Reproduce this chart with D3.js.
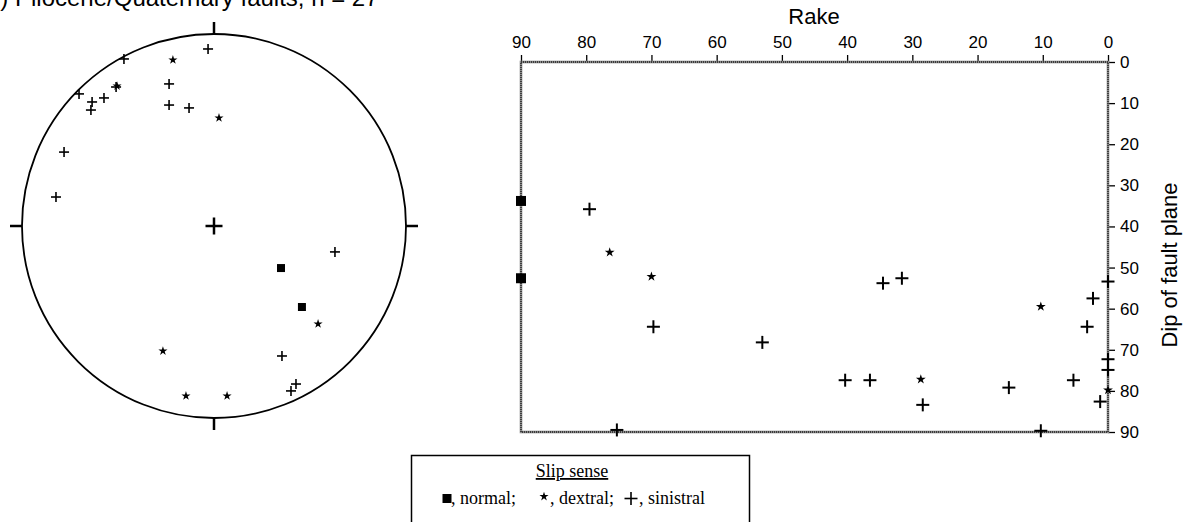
<!DOCTYPE html>
<html>
<head>
<meta charset="utf-8">
<script src="https://cdn.jsdelivr.net/npm/d3@7"></script>
<style>
  html, body { margin: 0; padding: 0; background: #fff; }
  svg { display: block; }
</style>
</head>
<body>
<svg id="chart" width="1194" height="522"></svg>
<script>
// ---------------- DATA ----------------
const titleText = "(b) Pliocene/Quaternary faults, n = 27";

// Stereonet poles, in net coordinates (east, north), unit circle = primitive
const netSinistral = [
  [-0.031, 0.922], [-0.469, 0.870], [-0.234, 0.740], [-0.510, 0.724],
  [-0.703, 0.688], [-0.573, 0.667], [-0.635, 0.646], [-0.641, 0.604],
  [-0.234, 0.630], [-0.130, 0.615], [-0.781, 0.385], [-0.823, 0.151],
  [0.630, -0.135], [0.354, -0.677], [0.427, -0.823], [0.401, -0.859]
];
const netDextral = [
  [-0.214, 0.865], [-0.505, 0.729], [0.026, 0.563], [0.542, -0.510],
  [-0.266, -0.651], [-0.146, -0.885], [0.068, -0.885]
];
const netNormal = [
  [0.349, -0.219], [0.458, -0.422]
];

// Rake vs dip of fault plane  [rake, dip]
const rdNormal = [[90, 33.8], [90, 52.6]];
const rdDextral = [[76.4, 46.3], [70.0, 52.2], [10.3, 59.5], [28.7, 77.2], [0, 79.8]];
const rdSinistral = [
  [79.5, 35.8], [34.5, 53.8], [31.6, 52.6], [0, 53.4], [2.3, 57.5],
  [3.2, 64.4], [0, 72.3], [0, 74.9], [5.3, 77.4], [15.2, 79.2],
  [28.4, 83.4], [1.2, 82.6], [10.3, 89.7], [69.7, 64.4], [53.0, 68.2],
  [40.3, 77.4], [36.5, 77.4], [75.3, 89.5]
];

const rakeTicks = [90, 80, 70, 60, 50, 40, 30, 20, 10, 0];
const dipTicks = [0, 10, 20, 30, 40, 50, 60, 70, 80, 90];
const rakeTitle = "Rake";
const dipTitle = "Dip of fault plane";
const legendTitle = "Slip sense";
const legendItems = [
  { type: "normal", label: ", normal;" },
  { type: "dextral", label: ", dextral;" },
  { type: "sinistral", label: ", sinistral" }
];

// ---------------- DRAWING ----------------
const svg = d3.select("#chart");
const sans = "'Liberation Sans', Arial, Helvetica, sans-serif";
const serif = "'Liberation Serif', 'Times New Roman', serif";

// Title (cut off at top/left edge, as in the source figure)
svg.append("text")
  .attr("x", -21).attr("y", 6)
  .attr("text-anchor", "start")
  .attr("font-family", sans).attr("font-size", 24)
  .text(titleText);

// marker helpers
function plus(g, x, y, half, sw) {
  g.append("line").attr("x1", x - half).attr("x2", x + half).attr("y1", y).attr("y2", y)
    .attr("stroke", "#000").attr("stroke-width", sw);
  g.append("line").attr("x1", x).attr("x2", x).attr("y1", y - half).attr("y2", y + half)
    .attr("stroke", "#000").attr("stroke-width", sw);
}
const starPath = s => d3.symbol().type(d3.symbolStar).size(s)();
const squarePath = s => d3.symbol().type(d3.symbolSquare).size(s)();

// ---- Stereonet ----
const cx = 214, cy = 226, R = 192;
const nx = d3.scaleLinear().domain([-1, 1]).range([cx - R, cx + R]);
const ny = d3.scaleLinear().domain([-1, 1]).range([cy + R, cy - R]);
const net = svg.append("g");
net.append("circle").attr("cx", nx(0)).attr("cy", ny(0)).attr("r", R)
  .attr("fill", "none").attr("stroke", "#000").attr("stroke-width", 1.8);
// N, E, S, W ticks
const tickLen = 12;
[[0, 1, 0, -1], [1, 0, 1, 0], [0, -1, 0, 1], [-1, 0, -1, 0]].forEach(([ex, ey, dx, dy]) => {
  net.append("line")
    .attr("x1", nx(ex)).attr("y1", ny(ey))
    .attr("x2", nx(ex) + dx * tickLen).attr("y2", ny(ey) + dy * tickLen)
    .attr("stroke", "#000").attr("stroke-width", 2.5);
});
// center cross
plus(net, nx(0), ny(0), 8.5, 2.5);

netSinistral.forEach(d => plus(net, nx(d[0]), ny(d[1]), 5, 1.6));
net.selectAll("path.ds").data(netDextral).join("path").attr("class", "ds")
  .attr("d", starPath(26))
  .attr("transform", d => `translate(${nx(d[0])},${ny(d[1])})`)
  .attr("fill", "#000");
net.selectAll("path.nm").data(netNormal).join("path").attr("class", "nm")
  .attr("d", squarePath(64))
  .attr("transform", d => `translate(${nx(d[0])},${ny(d[1])})`)
  .attr("fill", "#000");

// ---- Rake vs Dip plot ----
const x0 = 521, x1 = 1108, y0 = 62, y1 = 432;
const xR = d3.scaleLinear().domain([90, 0]).range([x0, x1]);
const yD = d3.scaleLinear().domain([0, 90]).range([y0, y1]);
const plot = svg.append("g");

const topAxis = plot.append("g").attr("transform", `translate(0,${y0})`)
  .call(d3.axisTop(xR).tickValues(rakeTicks).tickSize(7).tickPadding(7).tickFormat(d3.format("d")));
const rightAxis = plot.append("g").attr("transform", `translate(${x1},0)`)
  .call(d3.axisRight(yD).tickValues(dipTicks).tickSize(7).tickPadding(5).tickFormat(d3.format("d")));
[topAxis, rightAxis].forEach(a => {
  a.select(".domain").remove();
  a.selectAll("line").attr("stroke", "#000").attr("stroke-width", 1.3);
  a.selectAll("text").attr("font-family", sans).attr("font-size", 17).attr("fill", "#000");
});

// frame (textured grey)
plot.append("rect").attr("x", x0).attr("y", y0).attr("width", x1 - x0).attr("height", y1 - y0)
  .attr("fill", "none").attr("stroke", "#8a8a8a").attr("stroke-width", 2.6);
plot.append("rect").attr("x", x0).attr("y", y0).attr("width", x1 - x0).attr("height", y1 - y0)
  .attr("fill", "none").attr("stroke", "#222").attr("stroke-width", 1.4)
  .attr("stroke-dasharray", "1,1");

plot.append("text").attr("x", 814).attr("y", 24).attr("text-anchor", "middle")
  .attr("font-family", sans).attr("font-size", 22).text(rakeTitle);
plot.append("text")
  .attr("transform", "translate(1177,265) rotate(-90)")
  .attr("text-anchor", "middle")
  .attr("font-family", sans).attr("font-size", 22).text(dipTitle);

rdSinistral.forEach(d => plus(plot, xR(d[0]), yD(d[1]), 6.5, 2));
plot.selectAll("path.ds").data(rdDextral).join("path").attr("class", "ds")
  .attr("d", starPath(30))
  .attr("transform", d => `translate(${xR(d[0])},${yD(d[1])})`)
  .attr("fill", "#000");
plot.selectAll("path.nm").data(rdNormal).join("path").attr("class", "nm")
  .attr("d", squarePath(100))
  .attr("transform", d => `translate(${xR(d[0])},${yD(d[1])})`)
  .attr("fill", "#000");

// ---- Legend ----
const leg = svg.append("g");
leg.append("rect").attr("x", 411.5).attr("y", 455.5).attr("width", 338).attr("height", 90)
  .attr("fill", "#fff").attr("stroke", "#000").attr("stroke-width", 1.5);
leg.append("text").attr("x", 572).attr("y", 477).attr("text-anchor", "middle")
  .attr("font-family", serif).attr("font-size", 18).attr("text-decoration", "underline")
  .text(legendTitle);
const ly = 504;
const legendX = { normal: 447, dextral: 544, sinistral: 631 };
const legendTextX = { normal: 451, dextral: 550, sinistral: 639 };
legendItems.forEach(it => {
  const mx = legendX[it.type], my = ly - 5.5;
  if (it.type === "normal") {
    leg.append("path").attr("d", squarePath(81)).attr("transform", `translate(${mx},${my})`).attr("fill", "#000");
  } else if (it.type === "dextral") {
    leg.append("path").attr("d", starPath(26)).attr("transform", `translate(${mx},${my - 2})`).attr("fill", "#000");
  } else {
    plus(leg, mx, my, 6.5, 1.6);
  }
  leg.append("text").attr("x", legendTextX[it.type]).attr("y", ly)
    .attr("font-family", serif).attr("font-size", 18).text(it.label);
});
</script>
</body>
</html>
